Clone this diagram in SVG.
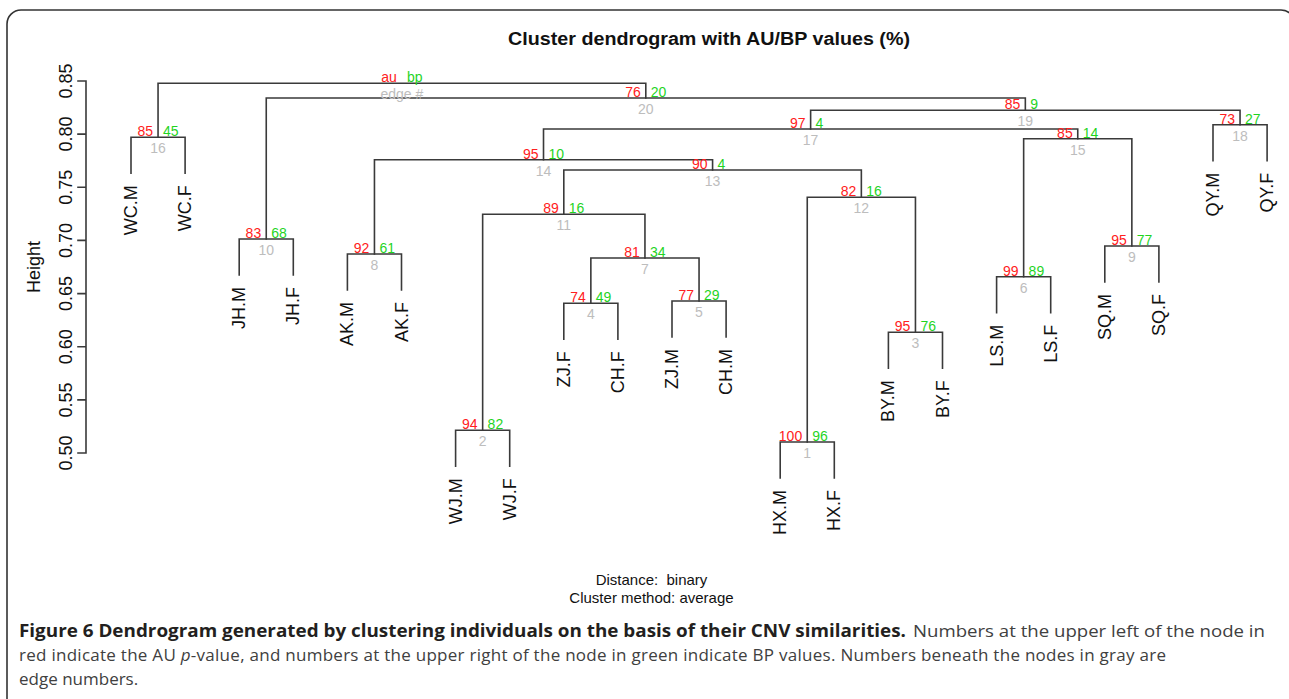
<svg xmlns="http://www.w3.org/2000/svg" width="1289" height="699" viewBox="0 0 1289 699">
<style>
.ln{fill:none;stroke:#3a3a3a;stroke-width:1.6;stroke-linecap:square}
.au{font-family:'Liberation Sans Narrow','Liberation Sans',Arial,sans-serif;font-size:14px;fill:#ff2020;text-anchor:end}
.bp{font-family:'Liberation Sans Narrow','Liberation Sans',Arial,sans-serif;font-size:14px;fill:#1fd41f;text-anchor:start}
.ed{font-family:'Liberation Sans Narrow','Liberation Sans',Arial,sans-serif;font-size:14px;fill:#bdbdbd;text-anchor:middle}
.leaf{font-family:'Liberation Sans Narrow','Liberation Sans',Arial,sans-serif;font-size:18px;fill:#111;text-anchor:end}
.tick{font-family:'Liberation Sans Narrow','Liberation Sans',Arial,sans-serif;font-size:18px;fill:#111;text-anchor:middle}
.cap{font-family:'Open Sans','Noto Sans',sans-serif;font-size:17px}
</style>
<rect width="1289" height="699" fill="#fff"/>
<rect x="7" y="10" width="1288" height="740" rx="14" fill="none" stroke="#333" stroke-width="1.6"/>
<text x="709" y="45" font-family="'Liberation Sans',Arial,sans-serif" font-weight="bold" font-size="18" text-anchor="middle" textLength="402" lengthAdjust="spacingAndGlyphs" fill="#111">Cluster dendrogram with AU/BP values (%)</text>
<g id="axis">
<path class="ln" d="M86 81V453M78 81H86M78 134.1H86M78 187.3H86M78 240.4H86M78 293.6H86M78 346.7H86M78 399.9H86M78 453H86"/>
<text class="tick" transform="translate(72 81) rotate(-90)">0.85</text>
<text class="tick" transform="translate(72 134.1) rotate(-90)">0.80</text>
<text class="tick" transform="translate(72 187.3) rotate(-90)">0.75</text>
<text class="tick" transform="translate(72 240.4) rotate(-90)">0.70</text>
<text class="tick" transform="translate(72 293.6) rotate(-90)">0.65</text>
<text class="tick" transform="translate(72 346.7) rotate(-90)">0.60</text>
<text class="tick" transform="translate(72 399.9) rotate(-90)">0.55</text>
<text class="tick" transform="translate(72 453) rotate(-90)">0.50</text>
<text class="tick" transform="translate(39.5 267) rotate(-90)">Height</text>
</g>
<g id="connectors">
<path class="ln" d="M131 173.3V137.3H185.1V173.3"/>
<path class="ln" d="M239.2 275V239H293.3V275"/>
<path class="ln" d="M347.4 290V254H401.5V290"/>
<path class="ln" d="M455.6 466.3V430.3H509.7V466.3"/>
<path class="ln" d="M563.8 339.3V303.3H617.9V339.3"/>
<path class="ln" d="M672 337V301H726.1V337"/>
<path class="ln" d="M590.85 303.3V258H699.05V301"/>
<path class="ln" d="M482.65 430.3V214.3H644.95V258"/>
<path class="ln" d="M780.2 478V442H834.3V478"/>
<path class="ln" d="M888.4 368.3V332.3H942.5V368.3"/>
<path class="ln" d="M807.25 442V197.3H915.45V332.3"/>
<path class="ln" d="M563.8 214.3V170H861.35V197.3"/>
<path class="ln" d="M374.45 254V159.8H712.58V170"/>
<path class="ln" d="M996.6 312.7V276.7H1050.7V312.7"/>
<path class="ln" d="M1104.8 282V246H1158.9V282"/>
<path class="ln" d="M1023.65 276.7V138.7H1131.85V246"/>
<path class="ln" d="M543.51 159.8V129H1077.75V138.7"/>
<path class="ln" d="M1213 160.7V124.7H1267.1V160.7"/>
<path class="ln" d="M810.63 129V110.3H1240.05V124.7"/>
<path class="ln" d="M266.25 239V98H1025.34V110.3"/>
<path class="ln" d="M158.05 137.3V83.3H645.8V98"/>
</g>
<g id="leaves">
<g id="leaf-WC.M"><text class="leaf" transform="translate(137 185.3) rotate(-90)">WC.M</text></g>
<g id="leaf-WC.F"><text class="leaf" transform="translate(191.1 185.3) rotate(-90)">WC.F</text></g>
<g id="leaf-JH.M"><text class="leaf" transform="translate(245.2 287) rotate(-90)">JH.M</text></g>
<g id="leaf-JH.F"><text class="leaf" transform="translate(299.3 287) rotate(-90)">JH.F</text></g>
<g id="leaf-AK.M"><text class="leaf" transform="translate(353.4 302) rotate(-90)">AK.M</text></g>
<g id="leaf-AK.F"><text class="leaf" transform="translate(407.5 302) rotate(-90)">AK.F</text></g>
<g id="leaf-WJ.M"><text class="leaf" transform="translate(461.6 478.3) rotate(-90)">WJ.M</text></g>
<g id="leaf-WJ.F"><text class="leaf" transform="translate(515.7 478.3) rotate(-90)">WJ.F</text></g>
<g id="leaf-ZJ.F"><text class="leaf" transform="translate(569.8 351.3) rotate(-90)">ZJ.F</text></g>
<g id="leaf-CH.F"><text class="leaf" transform="translate(623.9 351.3) rotate(-90)">CH.F</text></g>
<g id="leaf-ZJ.M"><text class="leaf" transform="translate(678 349) rotate(-90)">ZJ.M</text></g>
<g id="leaf-CH.M"><text class="leaf" transform="translate(732.1 349) rotate(-90)">CH.M</text></g>
<g id="leaf-HX.M"><text class="leaf" transform="translate(786.2 490) rotate(-90)">HX.M</text></g>
<g id="leaf-HX.F"><text class="leaf" transform="translate(840.3 490) rotate(-90)">HX.F</text></g>
<g id="leaf-BY.M"><text class="leaf" transform="translate(894.4 380.3) rotate(-90)">BY.M</text></g>
<g id="leaf-BY.F"><text class="leaf" transform="translate(948.5 380.3) rotate(-90)">BY.F</text></g>
<g id="leaf-LS.M"><text class="leaf" transform="translate(1002.6 324.7) rotate(-90)">LS.M</text></g>
<g id="leaf-LS.F"><text class="leaf" transform="translate(1056.7 324.7) rotate(-90)">LS.F</text></g>
<g id="leaf-SQ.M"><text class="leaf" transform="translate(1110.8 294) rotate(-90)">SQ.M</text></g>
<g id="leaf-SQ.F"><text class="leaf" transform="translate(1164.9 294) rotate(-90)">SQ.F</text></g>
<g id="leaf-QY.M"><text class="leaf" transform="translate(1219 172.7) rotate(-90)">QY.M</text></g>
<g id="leaf-QY.F"><text class="leaf" transform="translate(1273.1 172.7) rotate(-90)">QY.F</text></g>
</g>
<g id="nodes">
<g id="node-root"><text class="au" x="396.9" y="82.3">au</text><text class="bp" x="406.9" y="82.3">bp</text><text class="ed" x="401.9" y="99.3">edge #</text></g>
<g id="node-20"><text class="au" x="640.8" y="97">76</text><text class="bp" x="650.8" y="97">20</text><text class="ed" x="645.8" y="114">20</text></g>
<g id="node-19"><text class="au" x="1020.3" y="109.3">85</text><text class="bp" x="1030.3" y="109.3">9</text><text class="ed" x="1025.3" y="126.3">19</text></g>
<g id="node-18"><text class="au" x="1235" y="123.7">73</text><text class="bp" x="1245" y="123.7">27</text><text class="ed" x="1240" y="140.7">18</text></g>
<g id="node-17"><text class="au" x="805.6" y="128">97</text><text class="bp" x="815.6" y="128">4</text><text class="ed" x="810.6" y="145">17</text></g>
<g id="node-16"><text class="au" x="153" y="136.3">85</text><text class="bp" x="163" y="136.3">45</text><text class="ed" x="158" y="153.3">16</text></g>
<g id="node-15"><text class="au" x="1072.7" y="137.7">85</text><text class="bp" x="1082.7" y="137.7">14</text><text class="ed" x="1077.7" y="154.7">15</text></g>
<g id="node-14"><text class="au" x="538.5" y="158.8">95</text><text class="bp" x="548.5" y="158.8">10</text><text class="ed" x="543.5" y="175.8">14</text></g>
<g id="node-13"><text class="au" x="707.6" y="169">90</text><text class="bp" x="717.6" y="169">4</text><text class="ed" x="712.6" y="186">13</text></g>
<g id="node-12"><text class="au" x="856.3" y="196.3">82</text><text class="bp" x="866.3" y="196.3">16</text><text class="ed" x="861.3" y="213.3">12</text></g>
<g id="node-11"><text class="au" x="558.8" y="213.3">89</text><text class="bp" x="568.8" y="213.3">16</text><text class="ed" x="563.8" y="230.3">11</text></g>
<g id="node-10"><text class="au" x="261.2" y="238">83</text><text class="bp" x="271.2" y="238">68</text><text class="ed" x="266.2" y="255">10</text></g>
<g id="node-9"><text class="au" x="1126.8" y="245">95</text><text class="bp" x="1136.8" y="245">77</text><text class="ed" x="1131.8" y="262">9</text></g>
<g id="node-8"><text class="au" x="369.4" y="253">92</text><text class="bp" x="379.4" y="253">61</text><text class="ed" x="374.4" y="270">8</text></g>
<g id="node-7"><text class="au" x="639.9" y="257">81</text><text class="bp" x="649.9" y="257">34</text><text class="ed" x="644.9" y="274">7</text></g>
<g id="node-6"><text class="au" x="1018.6" y="275.7">99</text><text class="bp" x="1028.6" y="275.7">89</text><text class="ed" x="1023.6" y="292.7">6</text></g>
<g id="node-5"><text class="au" x="694" y="300">77</text><text class="bp" x="704" y="300">29</text><text class="ed" x="699" y="317">5</text></g>
<g id="node-4"><text class="au" x="585.8" y="302.3">74</text><text class="bp" x="595.8" y="302.3">49</text><text class="ed" x="590.8" y="319.3">4</text></g>
<g id="node-3"><text class="au" x="910.4" y="331.3">95</text><text class="bp" x="920.4" y="331.3">76</text><text class="ed" x="915.4" y="348.3">3</text></g>
<g id="node-2"><text class="au" x="477.6" y="429.3">94</text><text class="bp" x="487.6" y="429.3">82</text><text class="ed" x="482.6" y="446.3">2</text></g>
<g id="node-1"><text class="au" x="802.2" y="441">100</text><text class="bp" x="812.2" y="441">96</text><text class="ed" x="807.2" y="458">1</text></g>
</g>
<g id="subtitle" font-family="'Liberation Sans',Arial,sans-serif" font-size="15" fill="#111" text-anchor="middle">
<text x="651.5" y="585" xml:space="preserve">Distance:  binary</text>
<text x="651.5" y="603">Cluster method: average</text>
</g>
<g id="caption" class="cap">
<text x="19" y="637" font-weight="bold" fill="#231f20" textLength="887" lengthAdjust="spacingAndGlyphs">Figure 6 Dendrogram generated by clustering individuals on the basis of their CNV similarities.</text>
<text x="913" y="637" fill="#404040" textLength="352" lengthAdjust="spacingAndGlyphs">Numbers at the upper left of the node in</text>
<text x="19" y="661" fill="#404040" letter-spacing="0.27">red indicate the AU <tspan font-style="italic">p</tspan>-value, and numbers at the upper right of the node in green indicate BP values. Numbers beneath the nodes in gray are</text>
<text x="19" y="685" fill="#404040">edge numbers.</text>
</g>
</svg>
